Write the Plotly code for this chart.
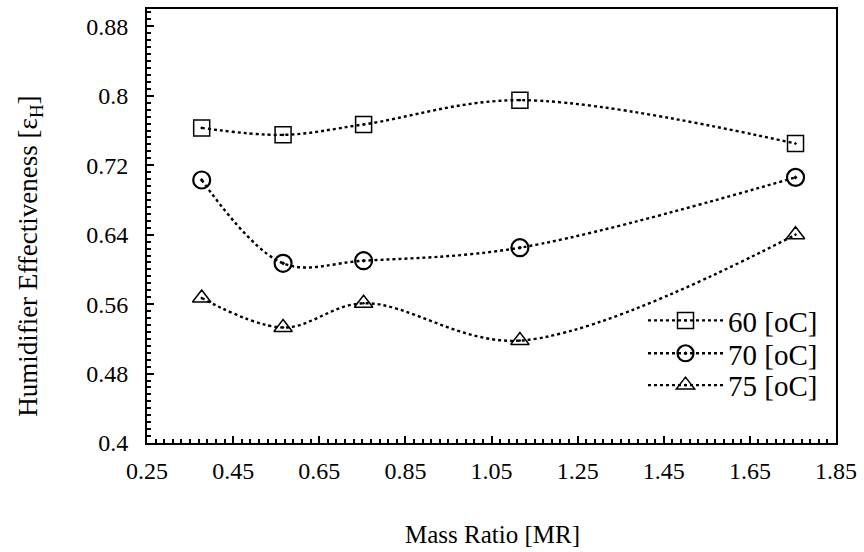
import plotly.graph_objects as go

mass_ratio = [0.377, 0.566, 0.753, 1.116, 1.756]
eff_60 = [0.763, 0.755, 0.767, 0.795, 0.745]
eff_70 = [0.703, 0.607, 0.610, 0.625, 0.706]
eff_75 = [0.567, 0.533, 0.561, 0.518, 0.640]
series_names = ["60 [oC]", "70 [oC]", "75 [oC]"]

x_ticks = [0.25, 0.45, 0.65, 0.85, 1.05, 1.25, 1.45, 1.65, 1.85]
y_ticks = [0.4, 0.48, 0.56, 0.64, 0.72, 0.8, 0.88]

FONT = "Liberation Serif"

fig = go.Figure()
styles = [
    dict(symbol="square-open-dot", size=16, line=dict(width=1.5, color="black")),
    dict(symbol="circle-open-dot", size=17, line=dict(width=2.2, color="black")),
    dict(symbol="triangle-up-open-dot", size=16, line=dict(width=1.5, color="black")),
]
legend_ids = ["legend", "legend2", "legend3"]
for name, ys, mk, lg in zip(series_names, [eff_60, eff_70, eff_75], styles, legend_ids):
    fig.add_trace(go.Scatter(
        x=mass_ratio, y=ys, name=name, mode="lines+markers", legend=lg,
        line=dict(color="black", width=2.4, dash="dot", shape="spline", smoothing=1.0),
        marker=dict(color="black", **mk),
    ))

axis_common = dict(
    showline=True, linecolor="black", linewidth=2, mirror=True,
    ticks="inside", ticklen=7, tickwidth=1.5, tickcolor="black",
    showgrid=False, zeroline=False,
    tickfont=dict(family=FONT, size=24, color="black"),
)

fig.update_xaxes(
    range=[0.25, 1.85], tickvals=x_ticks, ticktext=[f"{v:.2f}" for v in x_ticks],
    minor=dict(dtick=0.02, tick0=0.25, ticks="inside", ticklen=4, tickwidth=1.5, tickcolor="black", showgrid=False),
    ticklabelstandoff=5,
    **axis_common,
)
fig.update_yaxes(
    range=[0.4, 0.9], tickvals=y_ticks, ticktext=[f"{v:g}" for v in y_ticks],
    minor=dict(dtick=0.008, tick0=0.4, ticks="inside", ticklen=4, tickwidth=1.5, tickcolor="black", showgrid=False),
    ticklabelstandoff=12,
    **axis_common,
)

plot_left, plot_top, plot_w, plot_h = 147, 7, 689, 436

def px_to_paper_x(px):
    return (px - plot_left) / plot_w

def py_to_paper_y(py):
    return (plot_top + plot_h - py) / plot_h

fig.add_annotation(
    text="Mass Ratio [MR]", xref="paper", yref="paper",
    x=px_to_paper_x(493), y=py_to_paper_y(535), xanchor="center", yanchor="middle",
    showarrow=False, font=dict(family=FONT, size=25, color="black"),
)
fig.add_annotation(
    text="Humidifier Effectiveness [ε<sub>H</sub>]", xref="paper", yref="paper",
    x=px_to_paper_x(30), y=py_to_paper_y(256), xanchor="center", yanchor="middle",
    textangle=-90, showarrow=False, font=dict(family=FONT, size=27, color="black"),
)

legend_rows = [320, 353, 385]
legend_common = dict(
    xanchor="left", yanchor="middle", bgcolor="rgba(0,0,0,0)",
    font=dict(family=FONT, size=29, color="black"), itemsizing="trace", itemwidth=75,
)

fig.update_layout(
    width=864, height=552,
    margin=dict(l=147, r=28, t=7, b=109),
    paper_bgcolor="white", plot_bgcolor="white",
    font=dict(family=FONT, size=24, color="black"),
    legend=dict(x=px_to_paper_x(643), y=py_to_paper_y(legend_rows[0]), **legend_common),
    legend2=dict(x=px_to_paper_x(643), y=py_to_paper_y(legend_rows[1]), **legend_common),
    legend3=dict(x=px_to_paper_x(643), y=py_to_paper_y(legend_rows[2]), **legend_common),
    showlegend=True,
)

fig.write_html("out.html", config={"displayModeBar": False},
               post_script="document.body.style.margin='0';")
